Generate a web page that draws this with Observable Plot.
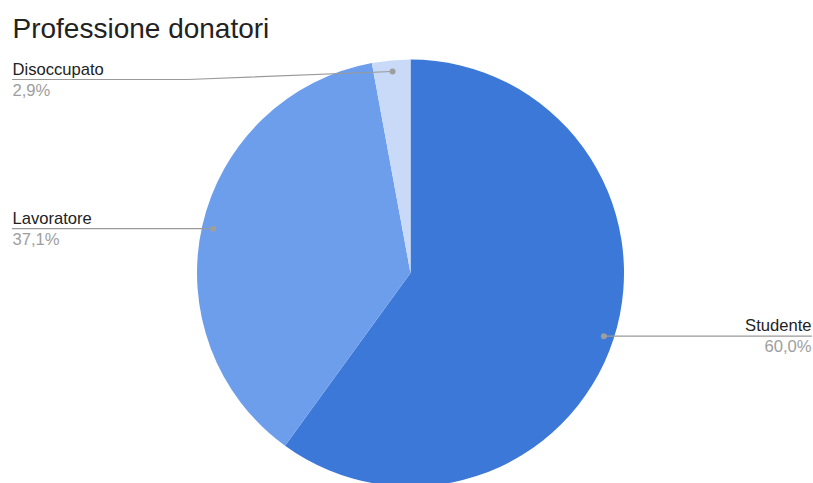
<!DOCTYPE html>
<html>
<head>
<meta charset="utf-8">
<script src="https://cdn.jsdelivr.net/npm/d3@7"></script>
<script src="https://cdn.jsdelivr.net/npm/@observablehq/plot@0.6"></script>
<style>
  html, body { margin: 0; padding: 0; background: #fff; }
  svg { display: block; }
</style>
</head>
<body>
<div id="chart"></div>
<script>
const title = "Professione donatori";
const categories = ["Studente", "Lavoratore", "Disoccupato"];
const values = [60.0, 37.1, 2.9];
const percentLabels = ["60,0%", "37,1%", "2,9%"];
const colors = ["#3c78d8", "#6d9eeb", "#c9daf8"];

const W = 813, H = 483;
const CX = 410.5, CY = 273, R = 213.5;
const FONT = "'Liberation Sans', Arial, sans-serif";

const data = categories.map((c, i) => ({ label: c, value: values[i], pct: percentLabels[i], color: colors[i] }));
const arcs = d3.pie().sort(null).value(d => d.value)(data);

// anchor dots & label lines derived from slice mid-angles
const items = arcs.map(a => {
  const mid = (a.startAngle + a.endAngle) / 2;
  const px = CX + 0.95 * R * Math.sin(mid);
  const py = CY - 0.95 * R * Math.cos(mid);
  const right = Math.sin(mid) > 0;
  const lineY = Math.max(py, 79);
  const endX = right ? W - 2 : 12;
  const bendX = py < lineY ? 187 : px;
  return { ...a.data, px, py, lineY, endX, bendX, right };
});
const leftItems = items.filter(d => !d.right);
const rightItems = items.filter(d => d.right);

const pieMark = (index, scales) => {
  const cx = scales.x(CX), cy = scales.y(CY);
  const rr = scales.x(CX + R) - cx;
  const arc = d3.arc().innerRadius(0).outerRadius(rr);
  const g = d3.create("svg:g").attr("transform", `translate(${cx},${cy})`);
  g.selectAll("path").data(arcs).join("path")
    .attr("d", arc)
    .attr("fill", d => d.data.color);
  return g.node();
};

const leaderPts = items.flatMap(d => [
  { label: d.label, x: d.px, y: d.py },
  { label: d.label, x: d.bendX, y: d.lineY },
  { label: d.label, x: d.endX, y: d.lineY }
]);

const labelMarks = (arr, anchor) => [
  Plot.text(arr, {
    x: "endX", y: d => d.lineY - 5, text: "label",
    textAnchor: anchor, lineAnchor: "bottom", fill: "#222", fontSize: 16.6, fontFamily: FONT
  }),
  Plot.text(arr, {
    x: "endX", y: d => d.lineY + 16, text: "pct",
    textAnchor: anchor, lineAnchor: "bottom", fill: "#9e9e9e", fontSize: 16.6, fontFamily: FONT
  })
];

const chart = Plot.plot({
  width: W,
  height: H,
  margin: 0,
  x: { domain: [0, W], range: [0, W], axis: null },
  y: { domain: [0, H], range: [0, H], axis: null },
  style: { fontFamily: FONT, background: "#fff" },
  marks: [
    pieMark,
    Plot.line(leaderPts, { x: "x", y: "y", z: "label", stroke: "#9a9a9a", strokeWidth: 1.2, curve: "linear" }),
    Plot.dot(items, { x: "px", y: "py", r: 3, fill: "#9e9e9e", stroke: "none" }),
    ...labelMarks(leftItems, "start"),
    ...labelMarks(rightItems, "end"),
    Plot.text([title], {
      x: 12, y: 37, text: d => d, textAnchor: "start", lineAnchor: "bottom",
      fill: "#222", fontSize: 28, fontFamily: FONT
    })
  ]
});

document.getElementById("chart").appendChild(chart);
</script>
</body>
</html>
